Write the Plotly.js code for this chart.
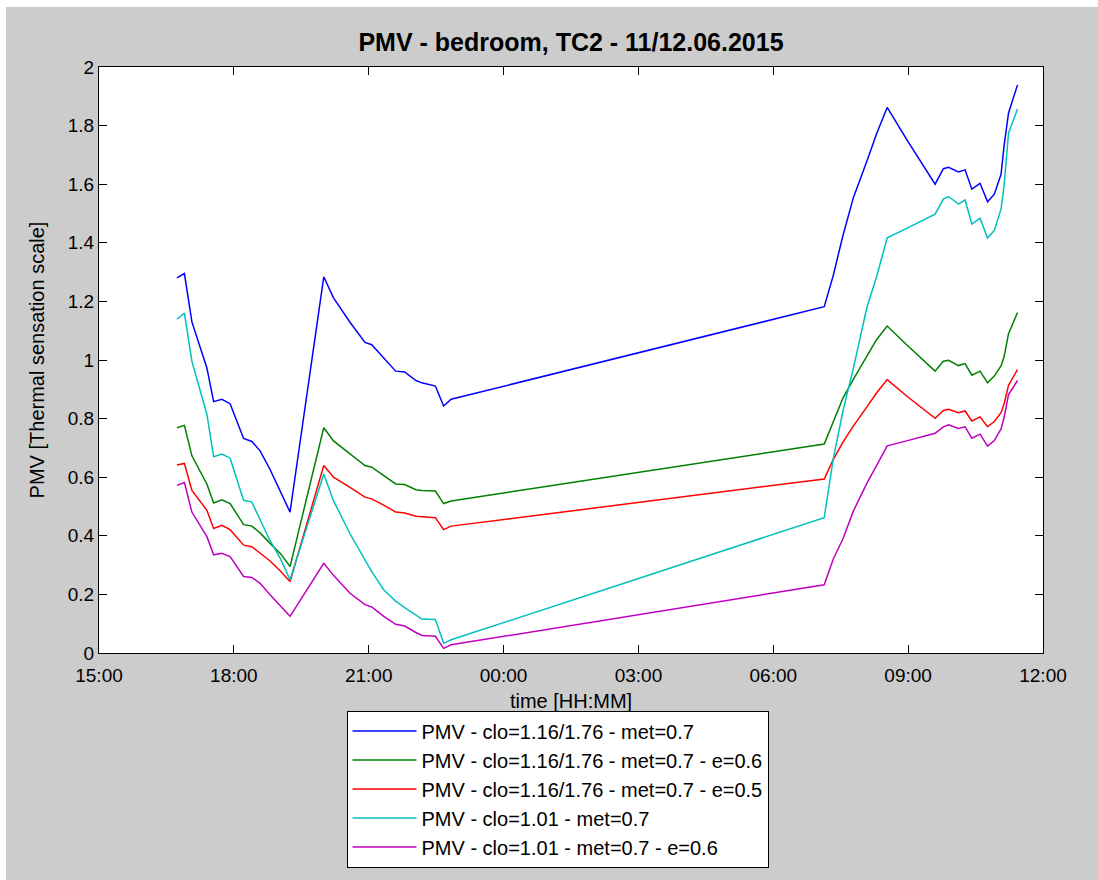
<!DOCTYPE html>
<html>
<head>
<meta charset="utf-8">
<script src="https://cdn.plot.ly/plotly-3.0.1.min.js"></script>
<style>
  html, body { margin: 0; padding: 0; background: #ffffff; }
  #chart { position: absolute; left: 6px; top: 7px; width: 1092px; height: 873px; }
</style>
</head>
<body>
<div id="chart"></div>
<script>
// ---- data ----
const times = [
  "2015-06-11 16:44","2015-06-11 16:54","2015-06-11 17:04","2015-06-11 17:24","2015-06-11 17:33",
  "2015-06-11 17:44","2015-06-11 17:55","2015-06-11 18:13","2015-06-11 18:24","2015-06-11 18:35",
  "2015-06-11 18:48","2015-06-11 19:02","2015-06-11 19:15","2015-06-11 20:00","2015-06-11 20:13",
  "2015-06-11 20:35","2015-06-11 20:55","2015-06-11 21:04","2015-06-11 21:20","2015-06-11 21:36",
  "2015-06-11 21:48","2015-06-11 22:03","2015-06-11 22:11","2015-06-11 22:29","2015-06-11 22:40",
  "2015-06-11 22:50","2015-06-12 07:08","2015-06-12 07:20","2015-06-12 07:33","2015-06-12 07:47",
  "2015-06-12 08:05","2015-06-12 08:18","2015-06-12 08:32","2015-06-12 08:58","2015-06-12 09:36",
  "2015-06-12 09:47","2015-06-12 09:54","2015-06-12 10:07","2015-06-12 10:16","2015-06-12 10:25",
  "2015-06-12 10:36","2015-06-12 10:46","2015-06-12 10:55","2015-06-12 11:04","2015-06-12 11:08",
  "2015-06-12 11:14","2015-06-12 11:26"
];

const pmvBlue = [
  1.28, 1.295, 1.13, 0.973, 0.858, 0.866, 0.851, 0.732, 0.722, 0.69, 0.628, 0.549, 0.481,
  1.284, 1.212, 1.129, 1.06, 1.052, 1.007, 0.962, 0.959, 0.93, 0.922, 0.911, 0.843, 0.866,
  1.182, 1.288, 1.425, 1.555, 1.679, 1.773, 1.862, 1.753, 1.60, 1.653, 1.658, 1.642, 1.649,
  1.583, 1.603, 1.54, 1.566, 1.634, 1.73, 1.843, 1.939
];
const pmvGreen = [
  0.769, 0.777, 0.673, 0.577, 0.512, 0.523, 0.51, 0.438, 0.433, 0.41, 0.375, 0.34, 0.295,
  0.769, 0.724, 0.68, 0.64, 0.634, 0.605, 0.577, 0.575, 0.557, 0.555, 0.553, 0.51, 0.519,
  0.713, 0.79, 0.87, 0.935, 1.015, 1.07, 1.116, 1.052, 0.962, 0.996, 0.999, 0.981, 0.988,
  0.948, 0.962, 0.922, 0.945, 0.98, 1.01, 1.09, 1.162
];
const pmvRed = [
  0.642, 0.647, 0.555, 0.487, 0.425, 0.436, 0.421, 0.368, 0.363, 0.34, 0.315, 0.28, 0.244,
  0.640, 0.60, 0.565, 0.532, 0.526, 0.505, 0.481, 0.478, 0.467, 0.465, 0.462, 0.421, 0.433,
  0.594, 0.66, 0.72, 0.775, 0.84, 0.888, 0.933, 0.877, 0.801, 0.828, 0.832, 0.820, 0.826,
  0.792, 0.806, 0.772, 0.79, 0.82, 0.85, 0.914, 0.967
];
const pmvCyan = [
  1.139, 1.16, 0.995, 0.815, 0.670, 0.679, 0.665, 0.521, 0.515, 0.457, 0.385, 0.323, 0.250,
  0.611, 0.52, 0.407, 0.32, 0.278, 0.216, 0.177, 0.155, 0.128, 0.116, 0.114, 0.033, 0.045,
  0.462, 0.662, 0.826, 0.973, 1.18, 1.285, 1.417, 1.449, 1.498, 1.549, 1.558, 1.532, 1.546,
  1.464, 1.484, 1.416, 1.442, 1.515, 1.594, 1.775, 1.857
];
const pmvMagenta = [
  0.572, 0.582, 0.481, 0.397, 0.335, 0.340, 0.329, 0.261, 0.258, 0.238, 0.2, 0.16, 0.125,
  0.306, 0.265, 0.204, 0.165, 0.157, 0.125, 0.098, 0.092, 0.07, 0.06, 0.057, 0.016, 0.028,
  0.233, 0.32, 0.39, 0.485, 0.58, 0.64, 0.707, 0.724, 0.75, 0.772, 0.779, 0.766, 0.772,
  0.733, 0.747, 0.706, 0.725, 0.765, 0.803, 0.882, 0.93
];

const seriesNames = [
  "PMV - clo=1.16/1.76 - met=0.7",
  "PMV - clo=1.16/1.76 - met=0.7 - e=0.6",
  "PMV - clo=1.16/1.76 - met=0.7 - e=0.5",
  "PMV - clo=1.01 - met=0.7",
  "PMV - clo=1.01 - met=0.7 - e=0.6"
];
const seriesValues = [pmvBlue, pmvGreen, pmvRed, pmvCyan, pmvMagenta];
const seriesColors = ["#0000ff", "#008000", "#ff0000", "#00bfbf", "#bf00bf"];

const titleText = "PMV - bedroom, TC2 - 11/12.06.2015";
const xTitle = "time [HH:MM]";
const yTitle = "PMV [Thermal sensation scale]";
const xRange = ["2015-06-11 15:00", "2015-06-12 12:00"];
const yRange = [0, 2];

// ---- chart ----
const FONT = "Liberation Sans, Arial, Helvetica, sans-serif";

const traces = seriesValues.map((vals, i) => ({
  type: "scatter",
  mode: "lines",
  x: times,
  y: vals,
  name: seriesNames[i],
  legendgroup: "g" + i,
  line: { color: seriesColors[i], width: 1.5 }
}));

const layout = {
  width: 1092,
  height: 873,
  paper_bgcolor: "#cccccc",
  plot_bgcolor: "#ffffff",
  margin: { l: 93, r: 55, t: 60, b: 223 },
  font: { family: FONT, color: "#000000", size: 19 },
  title: {
    text: titleText,
    font: { family: FONT, size: 25, weight: "bold", color: "#000000" },
    x: 0.5, xref: "paper", xanchor: "center",
    y: 1 - 35 / 873, yref: "container", yanchor: "middle"
  },
  xaxis: {
    type: "date",
    range: xRange,
    dtick: 3 * 3600 * 1000,
    tickformat: "%H:%M",
    ticks: "inside",
    ticklen: 8,
    tickcolor: "#000000",
    ticklabelstandoff: 5,
    showline: true,
    linecolor: "#000000",
    linewidth: 1,
    mirror: "ticks",
    showgrid: false,
    zeroline: false,
    tickfont: { size: 19 },
    title: { text: xTitle, font: { size: 20 }, standoff: 9 }
  },
  yaxis: {
    range: yRange,
    dtick: 0.2,
    ticks: "inside",
    ticklen: 8,
    tickcolor: "#000000",
    showline: true,
    linecolor: "#000000",
    linewidth: 1,
    mirror: "ticks",
    showgrid: false,
    zeroline: false,
    tickfont: { size: 19 },
    title: { text: yTitle, font: { size: 20 }, standoff: 17 }
  },
  showlegend: true,
  legend: {
    x: 0.4857, xanchor: "center",
    y: -0.0983, yanchor: "top",
    bgcolor: "#ffffff",
    bordercolor: "#000000",
    borderwidth: 1,
    font: { size: 20 },
    tracegroupgap: 0,
    itemwidth: 64
  }
};

Plotly.newPlot("chart", traces, layout, { displayModeBar: false, staticPlot: true });
</script>
</body>
</html>
